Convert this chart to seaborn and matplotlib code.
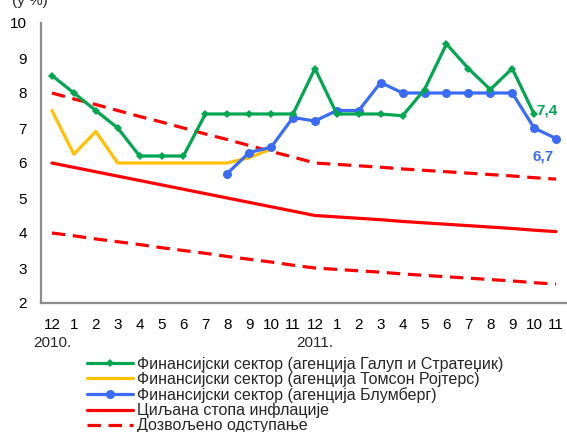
import numpy as np
import pandas as pd
import seaborn as sns
import matplotlib
matplotlib.use("Agg")
import matplotlib.pyplot as plt
from matplotlib.lines import Line2D

sns.set_theme(style="white")
plt.rcParams['font.family'] = ['Liberation Sans', 'DejaVu Sans']

# Months from December 2010 to November 2011
month_labels = ["12", "1", "2", "3", "4", "5", "6", "7", "8", "9", "10", "11",
                "12", "1", "2", "3", "4", "5", "6", "7", "8", "9", "10", "11"]
year_labels = {0: "2010.", 12: "2011."}

# Inflation expectations of the financial sector, by survey agency (%)
gallup = [8.5, 8.0, 7.5, 7.0, 6.2, 6.2, 6.2, 7.4, 7.4, 7.4, 7.4, 7.4,
          8.7, 7.4, 7.4, 7.4, 7.35, 8.1, 9.4, 8.7, 8.1, 8.7, 7.4, np.nan]
reuters = [7.5, 6.25, 6.9, 6.0, 6.0, 6.0, 6.0, 6.0, 6.0, 6.15, 6.4, np.nan,
           np.nan, np.nan, np.nan, np.nan, np.nan, np.nan, np.nan, np.nan,
           np.nan, np.nan, np.nan, np.nan]
bloomberg = [np.nan, np.nan, np.nan, np.nan, np.nan, np.nan, np.nan, np.nan,
             5.7, 6.3, 6.45, 7.3, 7.2, 7.5, 7.5, 8.3, 8.0, 8.0, 8.0, 8.0,
             8.0, 8.0, 7.0, 6.7]

# Inflation target path and tolerance band (%)
target = [6.0, 5.875, 5.75, 5.625, 5.5, 5.375, 5.25, 5.125, 5.0, 4.875, 4.75, 4.625,
          4.5, 4.46, 4.42, 4.38, 4.33, 4.29, 4.25, 4.21, 4.17, 4.13, 4.08, 4.04]
band_upper = [8.0, 7.83, 7.67, 7.5, 7.33, 7.17, 7.0, 6.83, 6.67, 6.5, 6.33, 6.17,
              6.0, 5.96, 5.92, 5.88, 5.83, 5.79, 5.75, 5.71, 5.67, 5.63, 5.58, 5.54]
band_lower = [4.0, 3.92, 3.83, 3.75, 3.67, 3.58, 3.5, 3.42, 3.33, 3.25, 3.17, 3.08,
              3.0, 2.96, 2.92, 2.88, 2.83, 2.79, 2.75, 2.71, 2.67, 2.63, 2.58, 2.54]

series_names = [
    "Финансијски сектор (агенција Галуп и Стратеџик)",
    "Финансијски сектор (агенција Томсон Ројтерс)",
    "Финансијски сектор (агенција Блумберг)",
    "Циљана стопа инфлације",
    "Дозвољено одступање",
]

GREEN = "#00A650"
YELLOW = "#FFC000"
BLUE = "#3B6CF5"
RED = "#FF0000"
GRAY = "#8C8C8C"

x = np.arange(len(month_labels))
df = pd.DataFrame({"x": x, "gallup": gallup, "reuters": reuters,
                   "bloomberg": bloomberg, "target": target,
                   "upper": band_upper, "lower": band_lower})

fig = plt.figure(figsize=(5.67, 4.32), dpi=100)
ax = fig.add_axes([41 / 567, 129 / 432, 526 / 567, 280 / 432])

lw = 2.3
dash = (4.2, 2.4)
sns.lineplot(data=df, x="x", y="lower", ax=ax, color=RED, lw=lw,
             linestyle=(0, dash))
sns.lineplot(data=df, x="x", y="upper", ax=ax, color=RED, lw=lw,
             linestyle=(0, dash))
sns.lineplot(data=df, x="x", y="target", ax=ax, color=RED, lw=lw)
sns.lineplot(data=df, x="x", y="reuters", ax=ax, color=YELLOW, lw=lw)
sns.lineplot(data=df, x="x", y="bloomberg", ax=ax, color=BLUE, lw=lw,
             marker="o", markersize=6.5, markeredgewidth=0)
sns.lineplot(data=df, x="x", y="gallup", ax=ax, color=GREEN, lw=lw,
             marker="D", markersize=4.5, markeredgewidth=0)

# value labels for the latest observations
ax.annotate("7,4", (22, gallup[22]), xytext=(9, 2.5), textcoords="offset points",
            ha="center", va="center", color=GREEN, fontsize=11, fontweight="bold")
ax.annotate("6,7", (23, bloomberg[23]), xytext=(-9.5, -13), textcoords="offset points",
            ha="center", va="center", color=BLUE, fontsize=11, fontweight="bold")

ax.set_xlim(-0.5, 23.5)
ax.set_ylim(2, 10)
ax.set_yticks(range(2, 11))
ax.set_xticks(x)
ax.set_xticklabels(month_labels)
ax.tick_params(axis="x", length=0, pad=10.5, labelsize=11, colors="black")
ax.tick_params(axis="y", length=0, pad=10, labelsize=11, colors="black")
ax.set_xlabel("")
ax.set_ylabel("")
for side in ["top", "right"]:
    ax.spines[side].set_visible(False)
for side in ["left", "bottom"]:
    ax.spines[side].set_color(GRAY)
    ax.spines[side].set_linewidth(1.6)

for idx, lab in year_labels.items():
    ax.text(idx, -0.143, lab, transform=ax.get_xaxis_transform(),
            ha="center", va="center", fontsize=11)

fig.text(12 / 567, 1 - 1 / 432, "(у %)", ha="left", va="center", fontsize=11)

handles = [
    Line2D([], [], color=GREEN, lw=lw, marker="D", markersize=4.5, markeredgewidth=0),
    Line2D([], [], color=YELLOW, lw=lw),
    Line2D([], [], color=BLUE, lw=lw, marker="o", markersize=6.5, markeredgewidth=0),
    Line2D([], [], color=RED, lw=lw),
    Line2D([], [], color=RED, lw=lw, linestyle=(0, dash)),
]
fig.legend(handles, series_names, loc="upper left",
           bbox_to_anchor=(87 / 567, 1 - 357 / 432), frameon=False,
           fontsize=11.5, handlelength=2.9, handletextpad=0.25,
           labelspacing=0.0, borderpad=0, borderaxespad=0)

fig.savefig("out.png", dpi=100)
